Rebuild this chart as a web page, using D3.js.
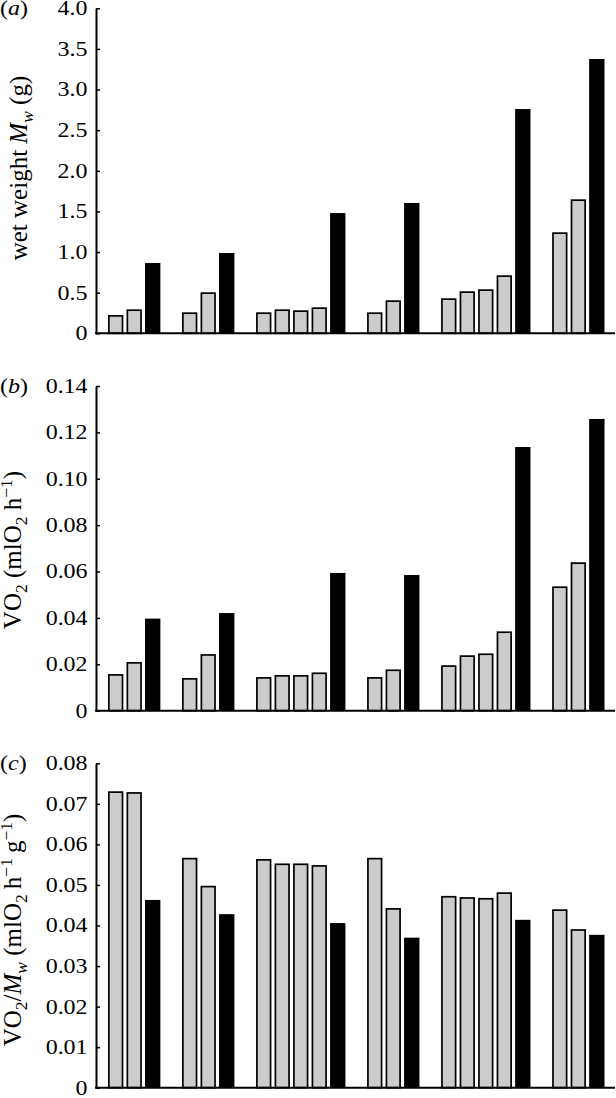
<!DOCTYPE html>
<html><head><meta charset="utf-8">
<script src="https://cdn.jsdelivr.net/npm/d3@7"></script>
<style>
body{margin:0;background:#fff}
svg{display:block}
text{font-family:"Liberation Serif","Times New Roman",Times,serif;fill:#000}
</style>
</head><body>
<svg id="chart" width="616" height="1098"></svg>
<script>
// ---- data ----
const groupNames = ["1","2","3","4","5","6"];
// (a) wet weight Mw (g)
const massGray  = [[0.225,0.295],[0.258,0.505],[0.258,0.295,0.283,0.32],[0.258,0.406],[0.431,0.517,0.542,0.714],[1.243,1.649]];
const massBlack = [0.865,0.988,1.48,1.604,2.76,3.376];
const massTicks = [0,0.5,1.0,1.5,2.0,2.5,3.0,3.5,4.0];
// (b) VO2 (ml O2 h-1)
const vo2Gray  = [[0.0158,0.021],[0.0141,0.0244],[0.0145,0.0154,0.0154,0.0165],[0.0145,0.0178],[0.0196,0.0239,0.0247,0.0342],[0.0536,0.064]];
const vo2Black = [0.0397,0.0421,0.0594,0.0585,0.1137,0.1258];
const vo2Ticks = [0,0.02,0.04,0.06,0.08,0.10,0.12,0.14];
// (c) VO2/Mw (ml O2 h-1 g-1)
const specGray  = [[0.0731,0.0729],[0.0567,0.0498],[0.0564,0.0553,0.0553,0.0549],[0.0567,0.0443],[0.0473,0.047,0.0468,0.0482],[0.044,0.0391]];
const specBlack = [0.0463,0.0428,0.0406,0.037,0.0414,0.0377];
const specTicks = [0,0.01,0.02,0.03,0.04,0.05,0.06,0.07,0.08];

// ---- layout ----
const axisX = 96, rightX = 615;
const TX = 1.2; // horizontal glyph stretch of small texts
const LABEL_SIZE = 25;
const panels = [
  {letter:"a", gray:massGray, black:massBlack, ticks:massTicks, max:4.0, fmt:d3.format(".1f"),
   top:8.3, bottom:333.3, labX:27, labY:168,
   label:[{t:"wet weight "},{t:"M",it:1},{t:"w",it:1,sub:1},{t:" (g)"}]},
  {letter:"b", gray:vo2Gray, black:vo2Black, ticks:vo2Ticks, max:0.14, fmt:d3.format(".2f"),
   top:386, bottom:710.7, labX:21, labY:550,
   label:[{t:"VO"},{t:"2",sub:1},{t:" (mlO"},{t:"2",sub:1},{t:" h"},{t:"\u22121",sup:1},{t:")"}]},
  {letter:"c", gray:specGray, black:specBlack, ticks:specTicks, max:0.08, fmt:d3.format(".2f"),
   top:763.3, bottom:1087.7, labX:21, labY:930,
   label:[{t:"VO"},{t:"2",sub:1},{t:"/"},{t:"M",it:1},{t:"w",it:1,sub:1},{t:" (mlO"},{t:"2",sub:1},{t:"\u2009h"},{t:"\u22121",sup:1},{t:"\u2009g"},{t:"\u22121",sup:1},{t:")"}]}
];

// slots: bars in a group are adjacent; one empty slot between groups
function buildSlots(gray, black){
  const bars=[]; let s=0;
  gray.forEach((g,i)=>{
    g.forEach(v=>bars.push({slot:s++, v, kind:"gray"}));
    bars.push({slot:s++, v:black[i], kind:"black"});
    s++;
  });
  return {bars, n:s-1};
}

const svg = d3.select("#chart");
const SW = 1.7;

function addRich(sel, parts, size){
  let shift = 0;
  parts.forEach(p=>{
    const fs = (p.sub||p.sup) ? size*0.7 : size;
    const target = p.sub ? size*0.22 : (p.sup ? -size*0.38 : 0);
    const ts = sel.append("tspan").text(p.t).attr("font-size", fs);
    if (target !== shift){ ts.attr("dy", target - shift); shift = target; }
    if (p.it) ts.attr("font-style","italic");
  });
}

panels.forEach(P=>{
  const {bars, n} = buildSlots(P.gray, P.black);
  const x = d3.scaleBand().domain(d3.range(n)).range([108, 604.5]).paddingInner(0.17);
  const y = d3.scaleLinear().domain([0, P.max]).range([P.bottom, P.top]);
  const g = svg.append("g");

  // bars
  g.selectAll("rect.gray").data(bars.filter(b=>b.kind==="gray")).join("rect")
    .attr("x", d=>x(d.slot)+SW/2).attr("width", x.bandwidth()-SW)
    .attr("y", d=>y(d.v)+SW/2).attr("height", d=>y(0)-y(d.v)-SW/2)
    .attr("fill","#cccccc").attr("stroke","#000").attr("stroke-width",SW);
  g.selectAll("rect.black").data(bars.filter(b=>b.kind==="black")).join("rect")
    .attr("x", d=>x(d.slot)).attr("width", x.bandwidth())
    .attr("y", d=>y(d.v)).attr("height", d=>y(0)-y(d.v))
    .attr("fill","#000");

  // baseline
  g.append("line").attr("x1",axisX-1).attr("x2",rightX).attr("y1",y(0)).attr("y2",y(0))
    .attr("stroke","#000").attr("stroke-width",2);

  // y axis
  const ax = g.append("g").attr("transform",`translate(${axisX},0)`)
    .call(d3.axisLeft(y).tickValues(P.ticks).tickSize(-4).tickSizeOuter(0).tickPadding(7)
      .tickFormat(d=> d===0 ? "0" : P.fmt(d)));
  ax.attr("font-family",null);
  ax.select(".domain").attr("stroke-width",2);
  ax.selectAll(".tick line").attr("stroke-width",1.5);
  ax.selectAll(".tick text").attr("font-size",20)
    .attr("transform",`scale(${TX},1)`);

  // panel letter
  const lt = g.append("text").attr("x",0).attr("y",P.top+7).attr("font-size",20)
    .attr("transform",`scale(${TX},1)`);
  lt.append("tspan").text("(");
  lt.append("tspan").text(P.letter).attr("font-style","italic");
  lt.append("tspan").text(")");

  // axis label
  const lab = g.append("text").attr("text-anchor","middle")
    .attr("transform",`translate(${P.labX},${P.labY}) rotate(-90)`);
  addRich(lab, P.label, LABEL_SIZE);
});
</script>
</body></html>
